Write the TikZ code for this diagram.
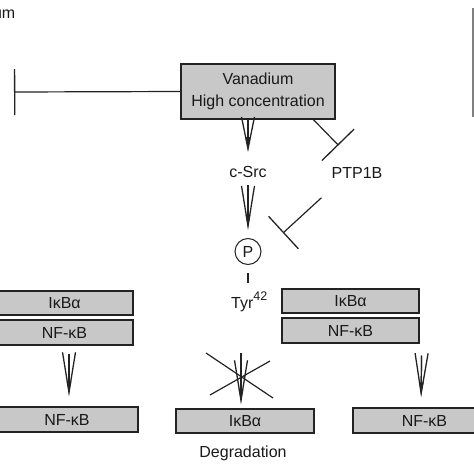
\documentclass[tikz,border=0pt]{standalone}
\usepackage{fontspec}
\setmainfont{Liberation Sans}
\usetikzlibrary{arrows.meta,calc}
\definecolor{boxgray}{RGB}{200,200,200}
\definecolor{edge}{RGB}{35,35,35}
\begin{document}
\begin{tikzpicture}[x=1pt,y=-1pt,
  every node/.style={font=\fontsize{16}{22}\selectfont, text=black!90},
  box/.style={draw=edge, fill=boxgray, line width=1.4pt, minimum height=24pt, inner sep=0pt},
  lbl/.style={inner sep=2pt},
  line/.style={draw=edge, line width=1.2pt},
  varrow/.style={line, -{Straight Barb[length=#1,width=13pt,line width=1.3pt]},
     postaction={draw=edge,line width=1.2pt,-{Latex[length=15pt,width=5pt]}}},
  varrow/.default=38pt,
  inhib/.style={line, -{Bar[width=#1,line width=1.3pt]}},
]
\useasboundingbox (0,0) rectangle (474,474);

% nodes
\node[anchor=base east, inner sep=0pt] (um) at (15.5,18.5) {um};
\node[box, minimum width=154pt, minimum height=55pt, align=center] (vana) at (258,91.5) {Vanadium\\High concentration};
\node[lbl] (csrc) at (248,172) {c-Src};
\node[lbl] (ptp) at (357,173) {PTP1B};
\node[circle, draw=edge, line width=1pt, minimum size=26pt, inner sep=0pt] (P) at (248,251.5) {P};
\node[anchor=base west, inner sep=0pt] (tyr) at (231,308.5) {Tyr\raisebox{8.5pt}{\fontsize{12.5}{13}\selectfont 42}};

\node[box, minimum width=137pt] (lika) at (64.5,303) {IκBα};
\node[box, minimum width=137pt, minimum height=25pt] (lnf) at (64.5,332.5) {NF-κB};
\node[box, minimum width=142pt, minimum height=25pt] (lnf2) at (67,419.5) {NF-κB};

\node[box, minimum width=138pt] (mid) at (245,421) {IκBα};
\node[lbl] (deg) at (243,453) {Degradation};

\node[box, minimum width=137pt] (rika) at (350.5,301) {IκBα};
\node[box, minimum width=137pt, minimum height=25pt] (rnf) at (350.5,330.5) {NF-κB};
\node[box, minimum width=143pt, minimum height=25pt] (rnf2) at (424.5,420.5) {NF-κB};

% free ends
\coordinate (lt) at (14,92);
\coordinate (mtop) at (241,353);
\coordinate (X) at (241,377);

% connectors
\draw[inhib=46pt] (vana.west) -- (lt);
\draw[varrow=32pt, shorten >=12pt] (vana.south -| csrc) -- (csrc.north);
\draw[varrow=40pt, shorten <=5pt, shorten >=8pt] (csrc.south) -- (P.north);
\draw[inhib=45pt] ($(vana.south west)!0.857!(vana.south east)$) -- ($(ptp.north west)+(9,-20)$);
\draw[inhib=44pt] ($(ptp.south west)+(-8,17)$) -- ($(P.center)+(35,-18.5)$);
\draw[line, shorten <=8pt, shorten >=8pt] (P.south) -- (P.south |- tyr.north);

\draw[varrow=40pt, shorten <=8pt, shorten >=10pt] ($(lnf.south)+(4.5,0)$) -- ($(lnf2.north)+(2,0)$);
\draw[varrow=40pt, shorten <=12pt, shorten >=10pt] ($(rnf.south east)+(2,0)$) -- ($(rnf2.north)+(-3.5,0)$);
\draw[varrow=40pt] (mtop) -- ($(mid.north)+(-4,-4)$);

% cross over the blocked arrow
\draw[line] ($(X)+(-35,-24)$) -- ($(X)+(32,21)$);
\draw[line] ($(X)+(29,-16)$) -- ($(X)+(-31,18)$);

% grey rule at right edge
\draw[draw=gray, line width=2pt] (472.5,8) -- (472.5,117);
\end{tikzpicture}
\end{document}
